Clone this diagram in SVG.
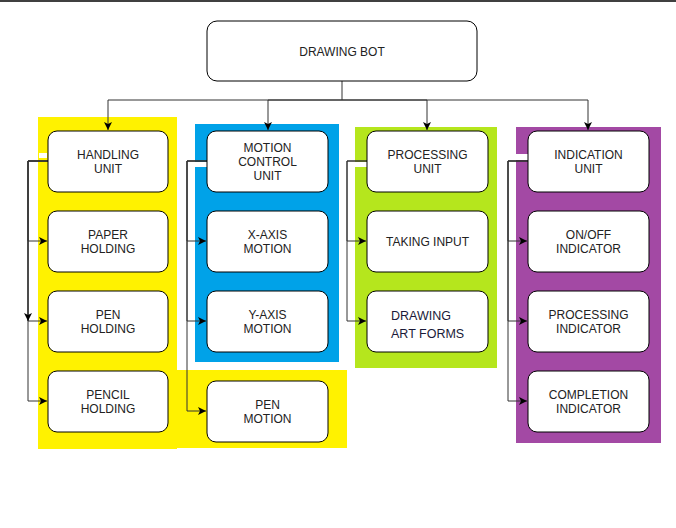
<svg xmlns="http://www.w3.org/2000/svg" width="676" height="528" viewBox="0 0 676 528">
<style>
.node{fill:#fff;stroke:#000;stroke-width:1}
.t{font-family:"Liberation Sans",Arial,sans-serif;font-size:12px;fill:#222;text-anchor:middle}
.t2{font-family:"Liberation Sans",Arial,sans-serif;font-size:12.5px;fill:#1a1a38}
.e{fill:none;stroke:#333;stroke-width:1}
</style>
<defs>
<marker id="arr" markerUnits="userSpaceOnUse" markerWidth="9" markerHeight="8" refX="8" refY="4" orient="auto">
<path d="M0,0 L8,4 L0,8 L2,4 Z" fill="#000"/>
</marker>
</defs>
<rect width="676" height="528" fill="#fff"/>
<line x1="0" y1="1" x2="676" y2="1" stroke="#000" stroke-width="1.5"/>
<g id="panels">
<rect x="38" y="117" width="139" height="332" fill="#fff200"/>
<rect x="177" y="370" width="170" height="78" fill="#fff200"/>
<rect x="195" y="124" width="144" height="238" fill="#00a2e8"/>
<rect x="355" y="127" width="142" height="241" fill="#b5e61d"/>
<rect x="516" y="127" width="145" height="316" fill="#a349a4"/>
</g>
<g id="connectors">
<path class="e" d="M342,81 V100" stroke-width="2"/>
<path class="e" d="M342,100 H108 V130" marker-end="url(#arr)"/>
<path class="e" d="M342,100 H268 V130" marker-end="url(#arr)"/>
<path class="e" d="M342,100 H427 V130" marker-end="url(#arr)"/>
<path class="e" d="M342,100 H588 V130" marker-end="url(#arr)"/>
<rect x="39" y="153" width="8" height="5" fill="#fff"/>
<path class="e" d="M48,161 H28 V241 H47" marker-end="url(#arr)"/>
<path class="e" d="M48,161 H28 V321 H47" marker-end="url(#arr)"/>
<path class="e" d="M48,161 H28 V401 H47" marker-end="url(#arr)"/>
<path class="e" d="M48,161 H28 V321" stroke="#000" stroke-width="1.5" marker-end="url(#arr)"/>
<rect x="188" y="162" width="19" height="5" fill="#fff"/>
<path class="e" d="M207,161 H187 V241 H206" marker-end="url(#arr)"/>
<path class="e" d="M207,161 H187 V321 H206" marker-end="url(#arr)"/>
<path class="e" d="M207,161 H187 V411 H206" marker-end="url(#arr)"/>
<rect x="355" y="162" width="12" height="5" fill="#fff"/>
<path class="e" d="M367,161 H347 V241 H366" marker-end="url(#arr)"/>
<path class="e" d="M367,161 H347 V321 H366" marker-end="url(#arr)"/>
<rect x="516" y="154" width="12" height="6" fill="#fff"/>
<path class="e" d="M528,161 H508 V241 H527" marker-end="url(#arr)"/>
<path class="e" d="M528,161 H508 V321 H527" marker-end="url(#arr)"/>
<path class="e" d="M528,161 H508 V401 H527" marker-end="url(#arr)"/>
</g>
<g id="drawing-bot"><rect class="node" x="207" y="21" width="270" height="60" rx="10"/><text class="t" x="342" y="56">DRAWING BOT</text></g>
<g id="handling-unit"><rect class="node" x="48" y="131" width="120" height="61" rx="9"/><text class="t" x="108" y="159">HANDLING</text><text class="t" x="108" y="173">UNIT</text></g>
<g id="paper-holding"><rect class="node" x="48" y="211" width="120" height="61" rx="9"/><text class="t" x="108" y="239">PAPER</text><text class="t" x="108" y="253">HOLDING</text></g>
<g id="pen-holding"><rect class="node" x="48" y="291" width="120" height="61" rx="9"/><text class="t" x="108" y="319">PEN</text><text class="t" x="108" y="333">HOLDING</text></g>
<g id="pencil-holding"><rect class="node" x="48" y="371" width="120" height="61" rx="9"/><text class="t" x="108" y="399">PENCIL</text><text class="t" x="108" y="413">HOLDING</text></g>
<g id="motion-control-unit"><rect class="node" x="207" y="131" width="121" height="61" rx="9"/><text class="t" x="267.5" y="152">MOTION</text><text class="t" x="267.5" y="166">CONTROL</text><text class="t" x="267.5" y="180">UNIT</text></g>
<g id="x-axis-motion"><rect class="node" x="207" y="211" width="121" height="61" rx="9"/><text class="t" x="267.5" y="239">X-AXIS</text><text class="t" x="267.5" y="253">MOTION</text></g>
<g id="y-axis-motion"><rect class="node" x="207" y="291" width="121" height="61" rx="9"/><text class="t" x="267.5" y="319">Y-AXIS</text><text class="t" x="267.5" y="333">MOTION</text></g>
<g id="pen-motion"><rect class="node" x="207" y="381" width="121" height="61" rx="9"/><text class="t" x="267.5" y="409">PEN</text><text class="t" x="267.5" y="423">MOTION</text></g>
<g id="processing-unit"><rect class="node" x="367" y="131" width="121" height="61" rx="9"/><text class="t" x="427.5" y="159">PROCESSING</text><text class="t" x="427.5" y="173">UNIT</text></g>
<g id="taking-input"><rect class="node" x="367" y="211" width="121" height="61" rx="9"/><text class="t" x="427.5" y="246">TAKING INPUT</text></g>
<g id="drawing-art-forms"><rect class="node" x="367" y="291" width="121" height="61" rx="9"/><text class="t2" x="391" y="320">DRAWING</text><text class="t2" x="391" y="338">ART FORMS</text></g>
<g id="indication-unit"><rect class="node" x="528" y="131" width="121" height="61" rx="9"/><text class="t" x="588.5" y="159">INDICATION</text><text class="t" x="588.5" y="173">UNIT</text></g>
<g id="on-off-indicator"><rect class="node" x="528" y="211" width="121" height="61" rx="9"/><text class="t" x="588.5" y="239">ON/OFF</text><text class="t" x="588.5" y="253">INDICATOR</text></g>
<g id="processing-indicator"><rect class="node" x="528" y="291" width="121" height="61" rx="9"/><text class="t" x="588.5" y="319">PROCESSING</text><text class="t" x="588.5" y="333">INDICATOR</text></g>
<g id="completion-indicator"><rect class="node" x="528" y="371" width="121" height="61" rx="9"/><text class="t" x="588.5" y="399">COMPLETION</text><text class="t" x="588.5" y="413">INDICATOR</text></g>
</svg>
